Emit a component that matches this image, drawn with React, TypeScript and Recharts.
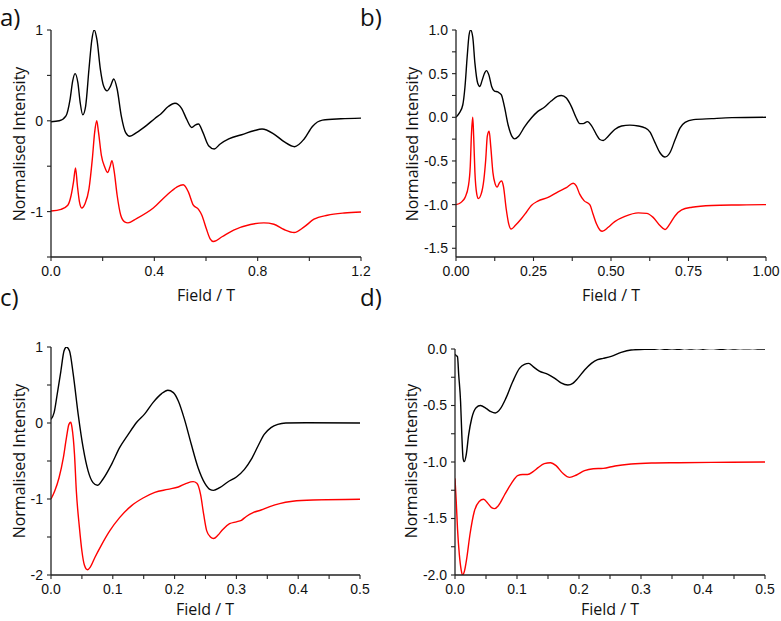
import React from 'react';
import { LineChart, Line, XAxis, YAxis } from 'recharts';

type Pt = [number, number];

// Panel a (0 – 1.2 T)
const aBlack: Pt[] = [[0,-0.01],[0.032,0],[0.058,0.055],[0.074,0.24],[0.084,0.44],[0.093,0.52],[0.104,0.42],[0.113,0.2],[0.123,0.066],[0.134,0.16],[0.147,0.57],[0.158,0.89],[0.167,1.0],[0.178,0.89],[0.191,0.57],[0.204,0.38],[0.217,0.33],[0.23,0.38],[0.243,0.46],[0.256,0.35],[0.272,0.055],[0.289,-0.13],[0.305,-0.17],[0.331,-0.13],[0.37,-0.05],[0.402,0.026],[0.424,0.073],[0.454,0.157],[0.48,0.193],[0.506,0.135],[0.525,0.018],[0.545,-0.073],[0.558,-0.047],[0.571,-0.036],[0.588,-0.128],[0.61,-0.274],[0.632,-0.31],[0.655,-0.255],[0.688,-0.2],[0.746,-0.146],[0.785,-0.11],[0.817,-0.09],[0.863,-0.146],[0.902,-0.23],[0.943,-0.285],[0.98,-0.2],[1.012,-0.062],[1.051,0.007],[1.122,0.022],[1.2,0.03]];
const aRed: Pt[] = [[0,-0.993],[0.039,-0.975],[0.065,-0.93],[0.078,-0.82],[0.087,-0.675],[0.095,-0.52],[0.102,-0.71],[0.11,-0.89],[0.119,-0.96],[0.132,-0.91],[0.147,-0.75],[0.16,-0.42],[0.169,-0.128],[0.177,0.0],[0.184,-0.128],[0.195,-0.38],[0.208,-0.51],[0.219,-0.57],[0.228,-0.51],[0.236,-0.44],[0.245,-0.566],[0.256,-0.82],[0.27,-1.04],[0.285,-1.113],[0.298,-1.124],[0.331,-1.077],[0.396,-0.96],[0.448,-0.82],[0.487,-0.73],[0.512,-0.704],[0.532,-0.785],[0.551,-0.93],[0.571,-0.975],[0.584,-1.04],[0.601,-1.186],[0.616,-1.3],[0.629,-1.33],[0.662,-1.277],[0.707,-1.204],[0.772,-1.142],[0.824,-1.124],[0.863,-1.139],[0.902,-1.197],[0.941,-1.23],[0.98,-1.168],[1.018,-1.084],[1.07,-1.04],[1.135,-1.015],[1.2,-1.004]];

// Panel b (0 – 1.0 T)
const bBlack: Pt[] = [[0,0],[0.011,0.05],[0.022,0.144],[0.029,0.35],[0.036,0.69],[0.042,0.94],[0.047,1.0],[0.054,0.92],[0.061,0.62],[0.07,0.39],[0.077,0.353],[0.084,0.42],[0.092,0.505],[0.098,0.535],[0.106,0.486],[0.115,0.353],[0.124,0.3],[0.135,0.29],[0.146,0.26],[0.156,0.125],[0.169,-0.1],[0.18,-0.216],[0.189,-0.247],[0.202,-0.216],[0.221,-0.11],[0.243,-0.008],[0.264,0.068],[0.286,0.118],[0.307,0.186],[0.327,0.239],[0.34,0.25],[0.356,0.22],[0.372,0.125],[0.388,-0.008],[0.399,-0.072],[0.41,-0.072],[0.424,-0.05],[0.437,-0.095],[0.453,-0.197],[0.464,-0.254],[0.475,-0.266],[0.491,-0.216],[0.512,-0.14],[0.534,-0.1],[0.561,-0.09],[0.588,-0.1],[0.609,-0.12],[0.626,-0.17],[0.642,-0.29],[0.658,-0.406],[0.674,-0.455],[0.69,-0.406],[0.707,-0.254],[0.723,-0.12],[0.739,-0.057],[0.766,-0.027],[0.825,-0.015],[0.89,-0.004],[1.0,0]];
const bRed: Pt[] = [[0,-1.0],[0.016,-0.975],[0.029,-0.92],[0.04,-0.786],[0.046,-0.56],[0.05,-0.18],[0.054,0.0],[0.057,-0.216],[0.061,-0.63],[0.067,-0.88],[0.072,-0.93],[0.081,-0.88],[0.09,-0.71],[0.096,-0.48],[0.101,-0.216],[0.107,-0.16],[0.112,-0.33],[0.119,-0.63],[0.126,-0.76],[0.133,-0.8],[0.14,-0.75],[0.147,-0.73],[0.153,-0.79],[0.162,-1.05],[0.17,-1.22],[0.178,-1.28],[0.191,-1.24],[0.21,-1.165],[0.227,-1.087],[0.243,-1.01],[0.264,-0.96],[0.297,-0.918],[0.329,-0.854],[0.356,-0.805],[0.378,-0.755],[0.388,-0.786],[0.399,-0.88],[0.413,-0.954],[0.432,-1.004],[0.442,-1.108],[0.453,-1.22],[0.464,-1.29],[0.472,-1.305],[0.491,-1.26],[0.512,-1.195],[0.545,-1.135],[0.588,-1.095],[0.615,-1.1],[0.636,-1.146],[0.658,-1.24],[0.674,-1.285],[0.69,-1.22],[0.707,-1.127],[0.728,-1.06],[0.761,-1.03],[0.825,-1.01],[0.912,-1.004],[1.0,-1.0]];

// Panel c (0 – 0.5 T)
const cBlack: Pt[] = [[0,0.05],[0.005,0.136],[0.01,0.377],[0.016,0.684],[0.021,0.947],[0.025,1.0],[0.03,0.947],[0.036,0.64],[0.044,0.114],[0.052,-0.325],[0.06,-0.63],[0.068,-0.785],[0.075,-0.82],[0.084,-0.74],[0.098,-0.544],[0.111,-0.325],[0.125,-0.15],[0.138,0.004],[0.152,0.123],[0.165,0.268],[0.179,0.386],[0.189,0.43],[0.198,0.4],[0.206,0.29],[0.216,0.048],[0.227,-0.28],[0.238,-0.588],[0.249,-0.794],[0.257,-0.873],[0.263,-0.886],[0.273,-0.85],[0.286,-0.776],[0.3,-0.71],[0.313,-0.61],[0.324,-0.478],[0.335,-0.303],[0.345,-0.15],[0.356,-0.061],[0.367,-0.018],[0.38,0],[0.413,0.004],[0.5,0]];
const cRed: Pt[] = [[0,-1.0],[0.006,-0.895],[0.013,-0.72],[0.02,-0.456],[0.025,-0.193],[0.029,-0.018],[0.032,0.009],[0.034,-0.061],[0.038,-0.41],[0.041,-0.895],[0.046,-1.377],[0.05,-1.684],[0.054,-1.868],[0.059,-1.93],[0.064,-1.89],[0.071,-1.77],[0.082,-1.6],[0.095,-1.42],[0.111,-1.245],[0.13,-1.09],[0.149,-0.987],[0.168,-0.912],[0.189,-0.873],[0.206,-0.842],[0.219,-0.794],[0.23,-0.772],[0.236,-0.794],[0.242,-0.94],[0.247,-1.2],[0.252,-1.42],[0.258,-1.5],[0.263,-1.52],[0.27,-1.478],[0.278,-1.4],[0.289,-1.325],[0.3,-1.3],[0.308,-1.28],[0.316,-1.23],[0.327,-1.18],[0.34,-1.145],[0.354,-1.1],[0.37,-1.06],[0.391,-1.03],[0.424,-1.013],[0.5,-1.004]];

// Panel d (0 – 0.5 T)
const dBlack: Pt[] = [[0,-0.047],[0.002,-0.059],[0.004,-0.068],[0.006,-0.23],[0.009,-0.466],[0.011,-0.76],[0.013,-0.967],[0.015,-0.997],[0.018,-0.94],[0.022,-0.76],[0.027,-0.613],[0.034,-0.52],[0.041,-0.5],[0.05,-0.525],[0.058,-0.555],[0.065,-0.566],[0.073,-0.53],[0.082,-0.437],[0.093,-0.29],[0.104,-0.171],[0.112,-0.136],[0.119,-0.127],[0.126,-0.156],[0.136,-0.195],[0.15,-0.224],[0.161,-0.26],[0.171,-0.3],[0.182,-0.319],[0.19,-0.304],[0.198,-0.26],[0.209,-0.186],[0.22,-0.127],[0.23,-0.094],[0.239,-0.083],[0.252,-0.065],[0.268,-0.03],[0.284,-0.009],[0.306,-0.003],[0.32,-0.002],[0.33,0.003],[0.34,-0.003],[0.35,0.001],[0.36,-0.002],[0.37,0.003],[0.38,0.0],[0.39,0.004],[0.4,-0.002],[0.41,0.005],[0.42,0.002],[0.43,-0.002],[0.44,0.003],[0.45,0.0],[0.46,0.004],[0.47,0.001],[0.48,0.003],[0.49,-0.001],[0.5,0.0]];
const dRed: Pt[] = [[0,-1.145],[0.002,-1.35],[0.004,-1.587],[0.007,-1.82],[0.01,-1.956],[0.012,-2.0],[0.015,-1.97],[0.019,-1.85],[0.024,-1.646],[0.031,-1.44],[0.039,-1.35],[0.046,-1.33],[0.053,-1.366],[0.059,-1.404],[0.064,-1.413],[0.07,-1.386],[0.08,-1.29],[0.091,-1.19],[0.101,-1.12],[0.109,-1.11],[0.117,-1.11],[0.126,-1.085],[0.134,-1.05],[0.144,-1.015],[0.154,-1.006],[0.163,-1.032],[0.174,-1.1],[0.185,-1.136],[0.196,-1.115],[0.209,-1.077],[0.223,-1.06],[0.239,-1.056],[0.258,-1.035],[0.284,-1.018],[0.317,-1.009],[0.36,-1.006],[0.414,-1.003],[0.5,-1.0]];

// Axis ticks (minor + major)
const aXTicks = [0, 0.2, 0.4, 0.6, 0.8, 1.0, 1.2];
const aYTicks = [-1.5, -1, -0.5, 0, 0.5, 1];
const bXTicks = [0, 0.125, 0.25, 0.375, 0.5, 0.625, 0.75, 0.875, 1.0];
const bYTicks = [-1.5, -1.25, -1, -0.75, -0.5, -0.25, 0, 0.25, 0.5, 0.75, 1];
const cXTicks = [0, 0.05, 0.1, 0.15, 0.2, 0.25, 0.3, 0.35, 0.4, 0.45, 0.5];
const cYTicks = [-2, -1.5, -1, -0.5, 0, 0.5, 1];
const dXTicks = [0, 0.05, 0.1, 0.15, 0.2, 0.25, 0.3, 0.35, 0.4, 0.45, 0.5];
const dYTicks = [-2, -1.75, -1.5, -1.25, -1, -0.75, -0.5, -0.25, 0];

const panelLabels = ['a)', 'b)', 'c)', 'd)'];
const xTitle = 'Field / T';
const yTitle = 'Normalised Intensity';

const toData = (pts: Pt[]) => pts.map(([x, y]) => ({ x, y }));

const TICK_FONT = { fontFamily: '"Liberation Sans", Arial, sans-serif', fontSize: 14, fill: '#111' };
const AXIS_COLOR = '#222';

function fmt(step: number, dec: number) {
  return (v: number) => {
    const r = v / step;
    if (Math.abs(r - Math.round(r)) > 1e-6) return '';
    return v.toFixed(dec);
  };
}

interface PanelProps {
  left: number; top: number; width: number; height: number;
  margin: { top: number; right: number; bottom: number; left: number };
  yWidth: number;
  xDomain: [number, number]; yDomain: [number, number];
  xTicks: number[]; yTicks: number[];
  xStep: number; xDec: number; yStep: number; yDec: number;
  black: Pt[]; red: Pt[];
}

function Panel(p: PanelProps) {
  return (
    <div style={{ position: 'absolute', left: p.left, top: p.top, width: p.width, height: p.height }}>
      <LineChart width={p.width} height={p.height} margin={p.margin}>
        <XAxis
          type="number"
          dataKey="x"
          domain={p.xDomain}
          ticks={p.xTicks}
          interval={0}
          allowDataOverflow
          tickFormatter={fmt(p.xStep, p.xDec)}
          tick={TICK_FONT}
          tickSize={4}
          tickMargin={5}
          height={30}
          stroke={AXIS_COLOR}
          axisLine={{ stroke: AXIS_COLOR, strokeWidth: 1.3 }}
          tickLine={{ stroke: AXIS_COLOR, strokeWidth: 1.1 }}
        />
        <YAxis
          type="number"
          dataKey="y"
          domain={p.yDomain}
          ticks={p.yTicks}
          interval={0}
          allowDataOverflow
          tickFormatter={fmt(p.yStep, p.yDec)}
          tick={TICK_FONT}
          tickSize={4}
          tickMargin={4}
          width={p.yWidth}
          stroke={AXIS_COLOR}
          axisLine={{ stroke: AXIS_COLOR, strokeWidth: 1.3 }}
          tickLine={{ stroke: AXIS_COLOR, strokeWidth: 1.1 }}
        />
        <Line data={toData(p.black)} dataKey="y" type="monotone" stroke="#000000" strokeWidth={1.4} dot={false} isAnimationActive={false} />
        <Line data={toData(p.red)} dataKey="y" type="monotone" stroke="#ff0000" strokeWidth={1.4} dot={false} isAnimationActive={false} />
      </LineChart>
    </div>
  );
}

const TITLE_FONT = '"Open Sans", "Noto Sans", sans-serif';

export default function App() {
  return (
    <div style={{ position: 'absolute', left: 0, top: 0, width: 781, height: 621, background: '#fff', overflow: 'hidden' }}>
      <Panel left={0} top={0} width={390} height={310}
        margin={{ top: 30, right: 29, bottom: 23, left: 0 }} yWidth={51}
        xDomain={[0, 1.2]} yDomain={[-1.5, 1]} xTicks={aXTicks} yTicks={aYTicks}
        xStep={0.4} xDec={1} yStep={1} yDec={0} black={aBlack} red={aRed} />
      <Panel left={390} top={0} width={391} height={310}
        margin={{ top: 30, right: 15, bottom: 23, left: 0 }} yWidth={66}
        xDomain={[0, 1.0]} yDomain={[-1.6, 1]} xTicks={bXTicks} yTicks={bYTicks}
        xStep={0.25} xDec={2} yStep={0.5} yDec={1} black={bBlack} red={bRed} />
      <Panel left={0} top={310} width={390} height={311}
        margin={{ top: 37, right: 30, bottom: 16, left: 0 }} yWidth={51}
        xDomain={[0, 0.5]} yDomain={[-2, 1]} xTicks={cXTicks} yTicks={cYTicks}
        xStep={0.1} xDec={1} yStep={1} yDec={0} black={cBlack} red={cRed} />
      <Panel left={390} top={310} width={391} height={311}
        margin={{ top: 39, right: 16, bottom: 16, left: 0 }} yWidth={65}
        xDomain={[0, 0.5]} yDomain={[-2, 0]} xTicks={dXTicks} yTicks={dYTicks}
        xStep={0.1} xDec={1} yStep={0.5} yDec={1} black={dBlack} red={dRed} />
      <svg width={781} height={621} style={{ position: 'absolute', left: 0, top: 0, pointerEvents: 'none' }}>
        <g fontFamily={TITLE_FONT} fill="#111">
          <text x={0} y={26} fontSize={24}>{panelLabels[0]}</text>
          <text x={360} y={26} fontSize={24}>{panelLabels[1]}</text>
          <text x={0} y={306} fontSize={24}>{panelLabels[2]}</text>
          <text x={360} y={306} fontSize={24}>{panelLabels[3]}</text>
          <text x={206} y={301} fontSize={16} textAnchor="middle">{xTitle}</text>
          <text x={611} y={301} fontSize={16} textAnchor="middle">{xTitle}</text>
          <text x={205} y={615} fontSize={16} textAnchor="middle">{xTitle}</text>
          <text x={610} y={615} fontSize={16} textAnchor="middle">{xTitle}</text>
          <text transform="translate(25,144) rotate(-90)" fontSize={16} textAnchor="middle">{yTitle}</text>
          <text transform="translate(418,144) rotate(-90)" fontSize={16} textAnchor="middle">{yTitle}</text>
          <text transform="translate(25,461) rotate(-90)" fontSize={16} textAnchor="middle">{yTitle}</text>
          <text transform="translate(417,461) rotate(-90)" fontSize={16} textAnchor="middle">{yTitle}</text>
        </g>
      </svg>
    </div>
  );
}
